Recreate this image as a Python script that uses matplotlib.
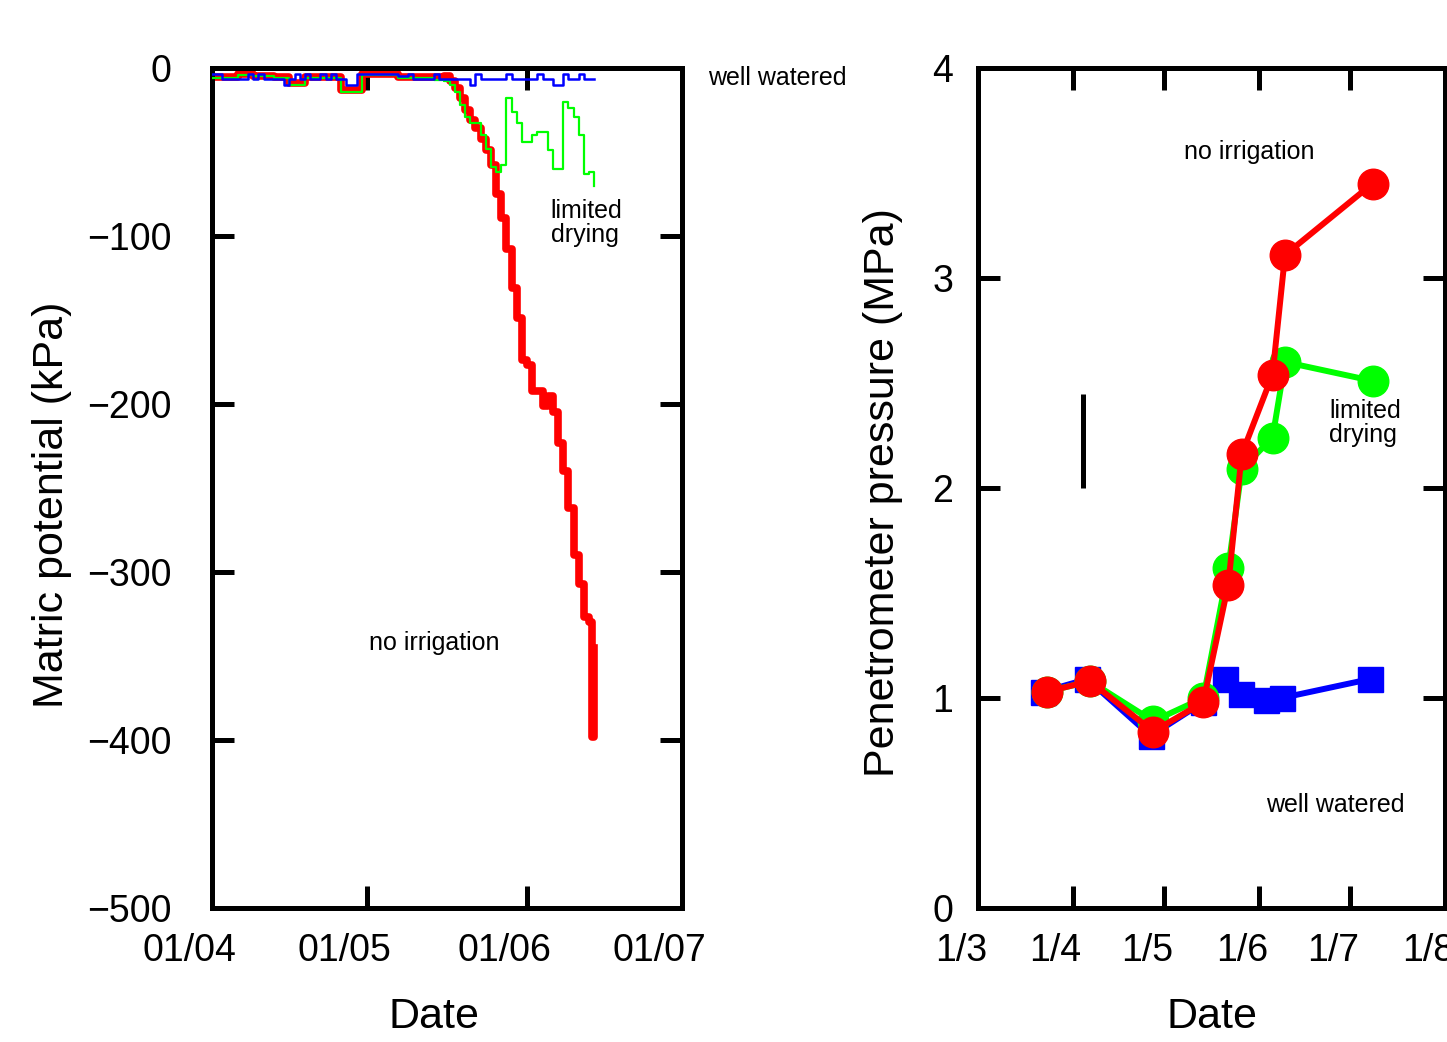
import matplotlib
matplotlib.use('Agg')
import matplotlib.pyplot as plt
import matplotlib.transforms as mtrans
import numpy as np

plt.rcParams['font.family'] = ['Liberation Sans', 'DejaVu Sans']

# ---- panel a: matric potential (kPa), daily readings from 1 April ----
dias_a = np.arange(75)
bien_regado = [-3.4, -3.4, -6.4, -6.4, -6.4, -6.4, -6.4, -3.4, -6.4, -3.4,
               -6.4, -6.4, -6.4, -6.4, -10, -6.4, -3.4, -6.4, -3.4, -6.4,
               -6.4, -3.4, -6.4, -3.4, -6.4, -6.4, -10, -10, -3.4, -3.4,
               -3.4, -3.4, -3.4, -3.4, -3.4, -3.4, -4.8, -4.8, -3.4, -6.4,
               -6.4, -6.4, -6.4, -3.4, -6.4, -6.4, -6.4, -6.4, -6.4, -6.4,
               -10, -3.4, -6.4, -6.4, -6.4, -6.4, -6.4, -3.4, -6.4, -6.4,
               -6.4, -6.4, -6.4, -3.4, -6.4, -6.4, -10, -10, -3.4, -6.4,
               -6.4, -3.4, -6.4, -6.4, -6.4]
secado_limitado = [-6, -6, -6, -6, -6, -4, -4, -4, -5, -5,
                   -5, -5, -6, -6, -6, -10, -10, -10, -6, -6,
                   -6, -6, -6, -6, -6, -14, -14, -14, -14, -4,
                   -4, -4, -4, -4, -4, -4, -6, -6, -6, -6,
                   -6, -6, -6, -7, -7, -8, -10, -14, -22, -29,
                   -33, -33, -40, -48, -59, -62, -58, -18, -26, -33,
                   -44, -44, -40, -38, -38, -49, -60, -60, -20, -24,
                   -29, -40, -63, -62, -70]
# no irrigation: daily readings, then several readings on the last day
dias_sin_a = [0, 1, 2, 3, 4, 5, 6, 7, 8, 9,
              10, 11, 12, 13, 14, 15, 16, 17, 18, 19,
              20, 21, 22, 23, 24, 25, 26, 27, 28, 29,
              30, 31, 32, 33, 34, 35, 36, 37, 38, 39,
              40, 41, 42, 43, 44, 45, 46, 47, 48, 49,
              50, 51, 52, 53, 54, 55, 56, 57, 58, 59,
              60, 61, 62, 63, 64, 65, 66, 67, 68, 69,
              70, 71, 72, 73, 73.6, 73.6, 73.9, 73.9]
sin_riego = [-5.4, -5.4, -5.4, -5.4, -5.4, -3.4, -3.4, -3.4, -4.5, -4.5,
             -4.5, -4.5, -5.4, -5.4, -5.4, -9, -9, -9, -5.4, -5.4,
             -5.4, -5.4, -5.4, -5.4, -5.4, -13, -13, -13, -13, -3.4,
             -3.4, -3.4, -3.4, -3.4, -3.4, -3.4, -5.5, -5.5, -5.5, -5.5,
             -5.5, -5.5, -5.5, -5.5, -5.5, -5, -8, -12, -18, -25,
             -31, -36, -42, -49, -58, -75, -89, -108, -131, -149,
             -174, -177, -192, -192, -201, -195, -205, -223, -240, -262,
             -290, -307, -327, -330, -342, -398, -398, -345]

ticks_a = [0, 30, 61, 91]
etiquetas_a = ['01/04', '01/05', '01/06', '01/07']
yticks_a = [0, -100, -200, -300, -400, -500]

# ---- panel b: penetrometer pressure (MPa), days from 1 March ----
dias_bien = [21.4, 35.8, 56.6, 73.8, 80.9, 86.2, 94.4, 99.5, 128.4]
pen_bien = [1.03, 1.09, 0.82, 0.98, 1.09, 1.02, 0.99, 1.00, 1.09]
dias_lim = [22.5, 36.7, 57.4, 73.8, 82.0, 86.4, 96.5, 100.6, 129.3]
pen_lim = [1.03, 1.08, 0.89, 1.00, 1.62, 2.09, 2.24, 2.60, 2.51]
dias_sin = [22.5, 36.7, 57.4, 73.8, 82.0, 86.4, 96.5, 100.6, 129.3]
pen_sin = [1.03, 1.08, 0.84, 0.98, 1.54, 2.16, 2.54, 3.11, 3.45]

ticks_b = [0, 31, 61, 92, 122, 153]
etiquetas_b = ['1/3', '1/4', '1/5', '1/6', '1/7', '1/8']
yticks_b = [0, 1, 2, 3, 4]

fig = plt.figure(figsize=(14.47, 10.42), dpi=100)
ax1 = fig.add_axes([212 / 1447, 1 - 908 / 1042, 470 / 1447, 840 / 1042])
ax2 = fig.add_axes([978 / 1447, 1 - 908 / 1042, 467 / 1447, 840 / 1042])

azul, verde, rojo = '#0000ff', '#00ff00', '#ff0000'

# panel a
ax1.plot(dias_sin_a, sin_riego, color=rojo, lw=5.5,
         drawstyle='steps-post', zorder=2)
ax1.plot(dias_a, secado_limitado, color=verde, lw=1.6,
         drawstyle='steps-post', zorder=3)
ax1.plot(dias_a, bien_regado, color=azul, lw=1.8,
         drawstyle='steps-post', zorder=4)
ax1.set_xlim(0, 91)
ax1.set_ylim(-500, 0)
ax1.set_xticks(ticks_a)
ax1.set_xticklabels(etiquetas_a)
ax1.set_yticks(yticks_a)
ax1.set_yticklabels([str(v).replace('-', '\u2212') for v in yticks_a])
ax1.set_xlabel('Date', fontsize=31)
ax1.set_ylabel('Matric potential (kPa)', fontsize=31)
ax1.xaxis.set_label_coords(0.472, -0.106)
ax1.yaxis.set_label_coords(-0.298, 0.48)
ax1.text(96, -6, 'well watered', fontsize=18, ha='left', va='center',
         clip_on=False)
ax1.text(65.6, -92, 'limited\ndrying', fontsize=18, ha='left', va='center',
         linespacing=1.0)
ax1.text(43, -342, 'no irrigation', fontsize=18, ha='center', va='center')

# panel b
ax2.plot(dias_bien, pen_bien, color=azul, lw=4.3, marker='s', ms=18,
         zorder=2)
ax2.plot(dias_lim, pen_lim, color=verde, lw=4.3, marker='o', ms=22,
         zorder=3)
ax2.plot(dias_sin, pen_sin, color=rojo, lw=4.3, marker='o', ms=22,
         zorder=4)
ax2.vlines(34.4, 2.0, 2.45, color='black', lw=3.6)
ax2.set_xlim(0, 153)
ax2.set_ylim(0, 4)
ax2.set_xticks(ticks_b)
ax2.set_xticklabels(etiquetas_b)
ax2.set_yticks(yticks_b)
ax2.set_xlabel('Date', fontsize=31)
ax2.set_ylabel('Penetrometer pressure (MPa)', fontsize=31)
ax2.xaxis.set_label_coords(0.501, -0.106)
ax2.yaxis.set_label_coords(-0.161, 0.494)
ax2.text(89, 3.6, 'no irrigation', fontsize=18, ha='center', va='center')
ax2.text(115, 2.31, 'limited\ndrying', fontsize=18, ha='left', va='center',
         linespacing=1.0)
ax2.text(117, 0.49, 'well watered', fontsize=18, ha='center', va='center')

for ax, pad_y, dx in [(ax1, 29, -0.23), (ax2, 18, -0.17)]:
    for s in ax.spines.values():
        s.set_linewidth(3.6)
    ax.tick_params(direction='in', length=16, width=3.6, top=True,
                   right=True, labelsize=27)
    ax.tick_params(axis='y', pad=pad_y)
    ax.tick_params(axis='x', pad=18)
    desplaza = mtrans.ScaledTranslation(dx, 0, fig.dpi_scale_trans)
    for lab in ax.get_xticklabels():
        lab.set_transform(lab.get_transform() + desplaza)

fig.savefig('out.png', dpi=100)
